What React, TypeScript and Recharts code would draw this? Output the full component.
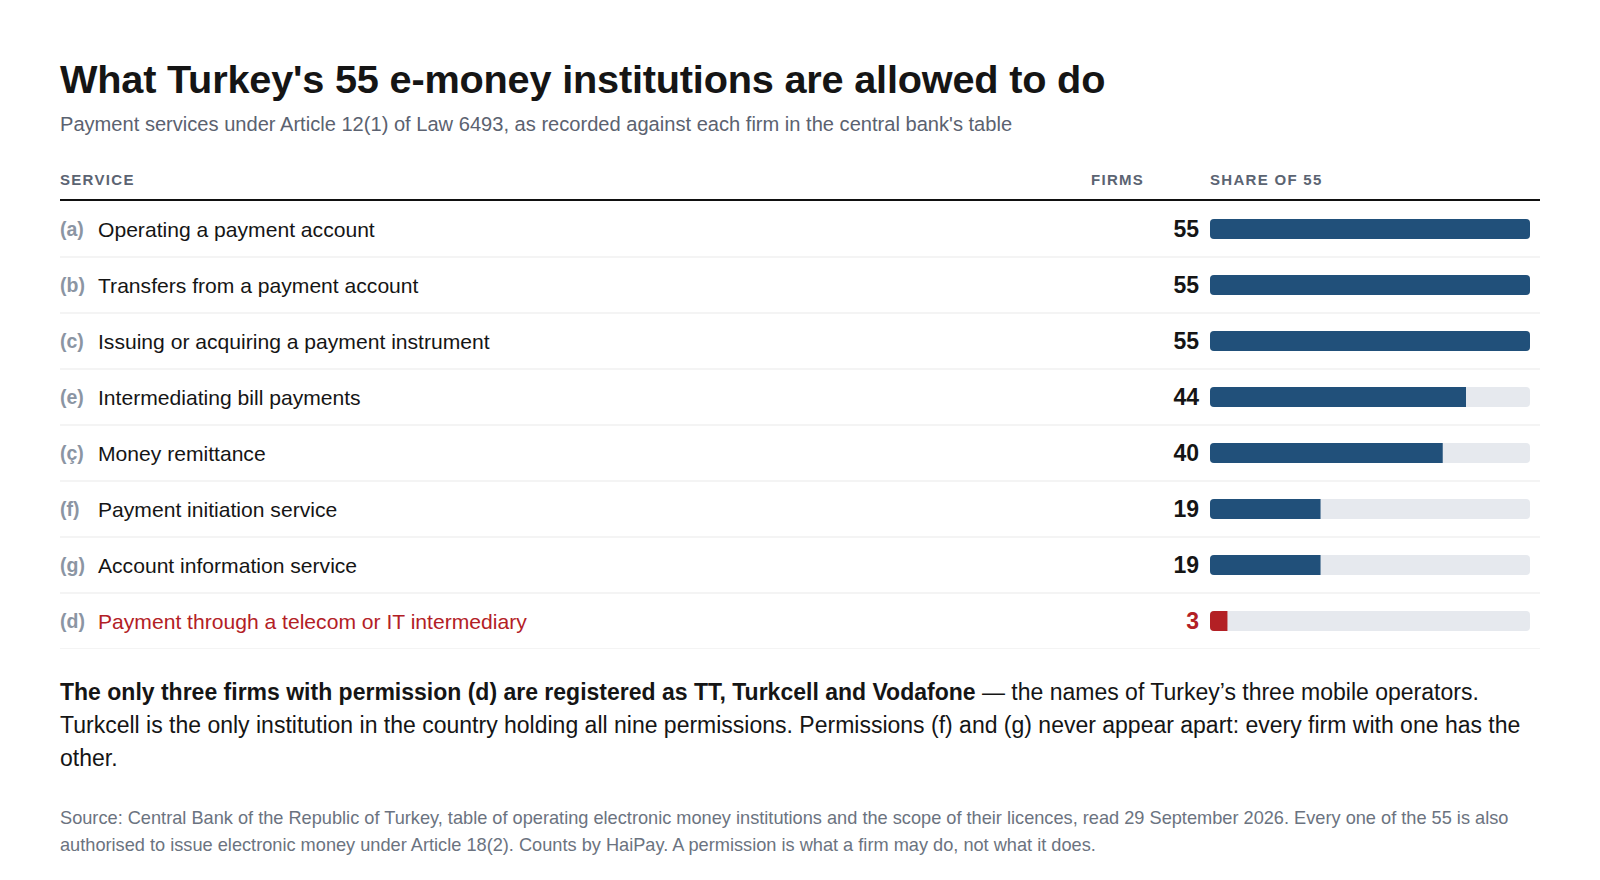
import React from 'react';
import { BarChart, Bar, XAxis, YAxis, LabelList, Rectangle } from 'recharts';

const codes = ['a', 'b', 'c', 'e', 'ç', 'f', 'g', 'd'];
const services = [
  'Operating a payment account',
  'Transfers from a payment account',
  'Issuing or acquiring a payment instrument',
  'Intermediating bill payments',
  'Money remittance',
  'Payment initiation service',
  'Account information service',
  'Payment through a telecom or IT intermediary',
];
const firms = [55, 55, 55, 44, 40, 19, 19, 3];
const TOTAL = 55;
const highlight = 'd';

const BLUE = '#21507a';
const RED = '#b32025';
const FONT = '"Liberation Sans", Arial, Helvetica, sans-serif';

const data = codes.map((code, i) => ({
  code,
  service: services[i],
  firms: firms[i],
}));

const ROW = 56;
const CHART_W = 1480;

const ServiceTick = (props: any) => {
  const { y, payload } = props;
  const row = data.find((d) => d.code === payload.value);
  if (!row) return null;
  const red = row.code === highlight;
  return (
    <g>
      <text x={0} y={y} dy={7} fontSize={19.5} fontWeight={700} fill="#8b95a3" fontFamily={FONT}>
        ({row.code})
      </text>
      <text x={38} y={y} dy={7.5} fontSize={21.1} fill={red ? RED : '#151515'} fontFamily={FONT}>
        {row.service}
      </text>
      <line x1={0} x2={CHART_W} y1={y + ROW / 2} y2={y + ROW / 2} stroke="#e9e9e9" strokeWidth={1} />
    </g>
  );
};

const BarShape = (props: any) => {
  const full = props.payload.firms >= TOTAL;
  const fill = props.payload.code === highlight ? RED : BLUE;
  return <Rectangle {...props} fill={fill} radius={full ? 4 : [4, 0, 0, 4]} />;
};

const headStyle: React.CSSProperties = {
  position: 'absolute',
  top: 170,
  fontSize: 15,
  lineHeight: '20px',
  fontWeight: 700,
  letterSpacing: 1.3,
  color: '#5b6472',
};

export default function App() {
  return (
    <div
      style={{
        position: 'absolute',
        left: 0,
        top: 0,
        width: 1600,
        height: 880,
        background: '#fff',
        fontFamily: FONT,
        color: '#151515',
      }}
    >
      <div style={{ position: 'absolute', left: 60, top: 55, fontSize: 39.7, lineHeight: '48px', fontWeight: 700, letterSpacing: -0.2 }}>
        What Turkey's 55 e-money institutions are allowed to do
      </div>
      <div style={{ position: 'absolute', left: 60, top: 112, fontSize: 20.1, lineHeight: '24px', color: '#5b6270' }}>
        Payment services under Article 12(1) of Law 6493, as recorded against each firm in the central bank's table
      </div>

      <div style={{ ...headStyle, left: 60 }}>SERVICE</div>
      <div style={{ ...headStyle, left: 1091 }}>FIRMS</div>
      <div style={{ ...headStyle, left: 1210 }}>SHARE OF 55</div>
      <div style={{ position: 'absolute', left: 60, top: 199, width: 1480, height: 2, background: '#111' }} />

      <div style={{ position: 'absolute', left: 60, top: 201 }}>
        <BarChart
          width={CHART_W}
          height={ROW * data.length}
          data={data}
          layout="vertical"
          margin={{ top: 0, right: 10, bottom: 0, left: 0 }}
        >
          <XAxis type="number" domain={[0, TOTAL]} hide />
          <YAxis
            type="category"
            dataKey="code"
            width={1150}
            axisLine={false}
            tickLine={false}
            interval={0}
            tick={(p: any) => <ServiceTick {...p} />}
          />
          <Bar
            dataKey="firms"
            barSize={20}
            isAnimationActive={false}
            background={{ fill: '#e6e9ee', radius: 4 } as any}
            shape={(p: any) => <BarShape {...p} />}
          >
            <LabelList
              dataKey="firms"
              position="left"
              offset={11}
              content={(p: any) => {
                const row = data[p.index];
                return (
                  <text
                    x={p.x - 11}
                    y={p.y + p.height / 2}
                    dy={8}
                    textAnchor="end"
                    fontSize={23}
                    fontWeight={700}
                    fill={row && row.code === highlight ? RED : '#151515'}
                    fontFamily={FONT}
                  >
                    {p.value}
                  </text>
                );
              }}
            />
          </Bar>
        </BarChart>
      </div>

      <div style={{ position: 'absolute', left: 60, top: 676, width: 1480, fontSize: 23, lineHeight: '33px' }}>
        <b>The only three firms with permission (d) are registered as TT, Turkcell and Vodafone</b>
        {' — the names of Turkey’s three mobile operators. Turkcell is the only institution in the country holding all nine permissions. Permissions (f) and (g) never appear apart: every firm with one has the other.'}
      </div>

      <div style={{ position: 'absolute', left: 60, top: 805, width: 1480, fontSize: 18.2, lineHeight: '26.5px', color: '#6b7380' }}>
        Source: Central Bank of the Republic of Turkey, table of operating electronic money institutions and the scope of their licences, read 29 September 2026. Every one of the 55 is also authorised to issue electronic money under Article 18(2). Counts by HaiPay. A permission is what a firm may do, not what it does.
      </div>
    </div>
  );
}
